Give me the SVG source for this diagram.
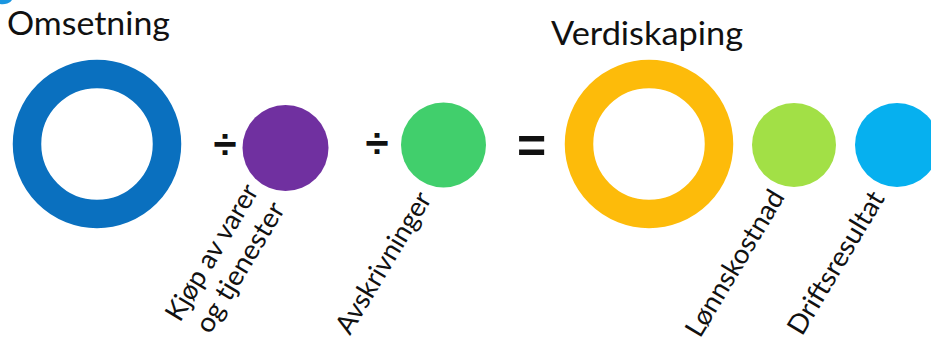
<svg xmlns="http://www.w3.org/2000/svg" width="931" height="342" viewBox="0 0 931 342">
<style>
.title{font-family:Lato,"Open Sans","Liberation Sans",sans-serif;font-size:33px;fill:#111}
.lbl{font-family:Lato,"Open Sans","Liberation Sans",sans-serif;font-size:27px;fill:#111}
.op{font-family:"Liberation Sans","DejaVu Sans",sans-serif;fill:#111;text-anchor:middle}
.ring{fill:none;stroke-width:28.5}
</style>
<rect width="931" height="342" fill="#fff"/>
<path d="M0,0 L12,0 A10,6 0 0 1 0,4 Z" fill="#1a96e0"/>
<g id="omsetning">
<text class="title" x="7" y="35" textLength="163" lengthAdjust="spacingAndGlyphs">Omsetning</text>
<circle class="ring" cx="97" cy="144" r="70" stroke="#0a70bf"/>
</g>
<g id="kjop">
<circle cx="285.5" cy="148" r="43" fill="#7030a0"/>
<text class="lbl" transform="translate(180,323) rotate(-59)" textLength="154" lengthAdjust="spacingAndGlyphs">Kjøp av varer</text>
<text class="lbl" transform="translate(210,335) rotate(-59)" textLength="147" lengthAdjust="spacingAndGlyphs">og tjenester</text>
</g>
<g id="avskrivninger">
<circle cx="443.5" cy="145" r="42.5" fill="#41cf6c"/>
<text class="lbl" transform="translate(350,336) rotate(-59)" textLength="160" lengthAdjust="spacingAndGlyphs">Avskrivninger</text>
</g>
<g id="verdiskaping">
<text class="title" x="551" y="45" textLength="192" lengthAdjust="spacingAndGlyphs">Verdiskaping</text>
<circle class="ring" cx="649" cy="144" r="70" stroke="#fdbb0a"/>
</g>
<g id="lonnskostnad">
<circle cx="794" cy="145" r="42" fill="#a2e046"/>
<text class="lbl" transform="translate(700,339) rotate(-59)" textLength="166" lengthAdjust="spacingAndGlyphs">Lønnskostnad</text>
</g>
<g id="driftsresultat">
<circle cx="897" cy="145" r="42" fill="#06b0ef"/>
<text class="lbl" transform="translate(802,337) rotate(-59)" textLength="162" lengthAdjust="spacingAndGlyphs">Driftsresultat</text>
</g>
<g id="connectors">
<text class="op" x="225" y="159" font-size="42" font-weight="bold">÷</text>
<text class="op" x="377" y="158" font-size="42" font-weight="bold">÷</text>
<text class="op" x="531.5" y="163" font-size="50" font-weight="bold">=</text>
</g>
</svg>
